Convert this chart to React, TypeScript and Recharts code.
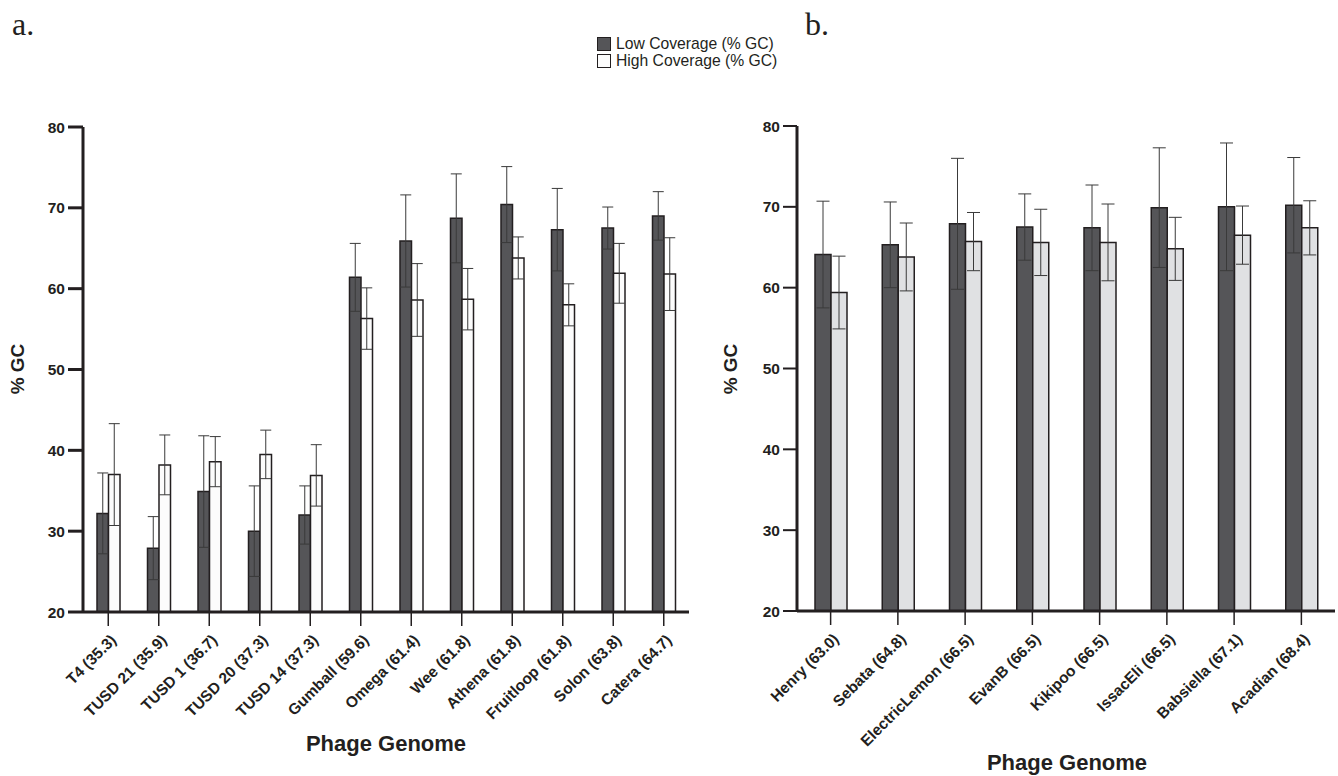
import React from "react";
import { BarChart, Bar, XAxis, YAxis, ErrorBar } from "recharts";

const leftGenomes = [
  "T4 (35.3)", "TUSD 21 (35.9)", "TUSD 1 (36.7)", "TUSD 20 (37.3)", "TUSD 14 (37.3)",
  "Gumball (59.6)", "Omega (61.4)", "Wee (61.8)", "Athena (61.8)", "Fruitloop (61.8)",
  "Solon (63.8)", "Catera (64.7)",
];
const leftLow = [32.2, 27.9, 34.9, 30.0, 32.0, 61.4, 65.9, 68.7, 70.4, 67.3, 67.5, 69.0];
const leftLowErr = [5.0, 3.9, 6.9, 5.6, 3.6, 4.2, 5.7, 5.5, 4.7, 5.1, 2.6, 3.0];
const leftHigh = [37.0, 38.2, 38.6, 39.5, 36.9, 56.3, 58.6, 58.7, 63.8, 58.0, 61.9, 61.8];
const leftHighErr = [6.3, 3.7, 3.1, 3.0, 3.8, 3.8, 4.5, 3.8, 2.6, 2.6, 3.7, 4.5];

const rightGenomes = [
  "Henry (63.0)", "Sebata (64.8)", "ElectricLemon (66.5)", "EvanB (66.5)",
  "Kikipoo (66.5)", "IssacEli (66.5)", "Babsiella (67.1)", "Acadian (68.4)",
];
const rightLow = [64.1, 65.3, 67.9, 67.5, 67.4, 69.9, 70.0, 70.2];
const rightLowErr = [6.6, 5.3, 8.1, 4.1, 5.3, 7.4, 7.9, 5.9];
const rightHigh = [59.4, 63.8, 65.7, 65.6, 65.6, 64.8, 66.5, 67.4];
const rightHighErr = [4.5, 4.2, 3.6, 4.1, 4.75, 3.9, 3.6, 3.35];

const yTicks = [20, 30, 40, 50, 60, 70, 80];

const leftData = leftGenomes.map((name, i) => ({
  name, low: leftLow[i], lowErr: leftLowErr[i], high: leftHigh[i], highErr: leftHighErr[i],
}));
const rightData = rightGenomes.map((name, i) => ({
  name, low: rightLow[i], lowErr: rightLowErr[i], high: rightHigh[i], highErr: rightHighErr[i],
}));

const ink = "#231f20";
const font = "'Liberation Sans', Arial, sans-serif";

const XTick = (props: any) => {
  const { x, y, payload } = props;
  return (
    <text
      transform={`translate(${x + 9},${y + 13}) rotate(-45)`}
      textAnchor="end"
      fill={ink}
      fontSize={15.5}
      fontWeight="bold"
      fontFamily={font}
    >
      {payload.value}
    </text>
  );
};

const yTick = { fill: ink, fontSize: 15.5, fontWeight: "bold" as const, fontFamily: font };

const Title = ({ x, y, children }: { x: number; y: number; children: React.ReactNode }) => (
  <div style={{
    position: "absolute", left: x - 150, top: y - 14, width: 300, textAlign: "center",
    fontFamily: font, fontWeight: "bold", fontSize: 22, color: ink,
  }}>{children}</div>
);

const YTitle = ({ x, y }: { x: number; y: number }) => (
  <div style={{
    position: "absolute", left: x - 40, top: y - 12, width: 80, textAlign: "center",
    transform: "rotate(-90deg)", fontFamily: font, fontWeight: "bold", fontSize: 19, color: ink,
  }}>% GC</div>
);

export default function App() {
  return (
    <div style={{ position: "fixed", left: 0, top: 0, width: 1338, height: 776, background: "#fff", overflow: "hidden" }}>
      <div style={{ position: "absolute", left: 12, top: 6, fontFamily: "'Liberation Serif', serif", fontSize: 32, color: ink }}>a.</div>
      <div style={{ position: "absolute", left: 805, top: 6, fontFamily: "'Liberation Serif', serif", fontSize: 32, color: ink }}>b.</div>

      {/* legend */}
      <div style={{ position: "absolute", left: 597, top: 35, fontFamily: font, fontSize: 15.7, color: ink, lineHeight: "17px" }}>
        <div style={{ display: "flex", alignItems: "center" }}>
          <span style={{ width: 12, height: 12, background: "#555558", border: `1px solid ${ink}`, marginRight: 5 }} />
          Low Coverage (% GC)
        </div>
        <div style={{ display: "flex", alignItems: "center" }}>
          <span style={{ width: 12, height: 12, background: "#fcfcfc", border: `1px solid ${ink}`, marginRight: 5 }} />
          High Coverage (% GC)
        </div>
      </div>

      <div style={{ position: "absolute", left: 0, top: 0 }}>
        <BarChart width={700} height={776} data={leftData} margin={{ top: 127, right: 11, left: 33, bottom: 0 }} barGap={0} barSize={11.5}>
          <XAxis dataKey="name" interval={0} height={164} tick={<XTick />}
            axisLine={{ stroke: ink, strokeWidth: 3 }} tickLine={{ stroke: ink, strokeWidth: 1.5 }} tickSize={14} />
          <YAxis domain={[20, 80]} ticks={yTicks} width={50} tick={yTick} tickSize={15} tickMargin={3}
            axisLine={{ stroke: ink, strokeWidth: 3 }} tickLine={{ stroke: ink, strokeWidth: 3 }} />
          <Bar dataKey="low" fill="#555558" stroke={ink} strokeWidth={1.5} isAnimationActive={false}>
            <ErrorBar dataKey="lowErr" width={5.5} stroke="#3a3a3a" strokeWidth={1} direction="y" isAnimationActive={false} />
          </Bar>
          <Bar dataKey="high" fill="#fcfcfc" stroke={ink} strokeWidth={1.5} isAnimationActive={false}>
            <ErrorBar dataKey="highErr" width={5.5} stroke="#3a3a3a" strokeWidth={1} direction="y" isAnimationActive={false} />
          </Bar>
        </BarChart>
      </div>

      <div style={{ position: "absolute", left: 700, top: 0 }}>
        <BarChart width={638} height={776} data={rightData} margin={{ top: 126, right: 3, left: 47, bottom: 0 }} barGap={0} barSize={16}>
          <XAxis dataKey="name" interval={0} height={165} tick={<XTick />}
            axisLine={{ stroke: ink, strokeWidth: 3 }} tickLine={{ stroke: ink, strokeWidth: 1.5 }} tickSize={14} />
          <YAxis domain={[20, 80]} ticks={yTicks} width={50} tick={yTick} tickSize={14} tickMargin={3}
            axisLine={{ stroke: ink, strokeWidth: 3 }} tickLine={{ stroke: ink, strokeWidth: 2 }} />
          <Bar dataKey="low" fill="#555558" stroke={ink} strokeWidth={1.5} isAnimationActive={false}>
            <ErrorBar dataKey="lowErr" width={6.5} stroke="#3a3a3a" strokeWidth={1} direction="y" isAnimationActive={false} />
          </Bar>
          <Bar dataKey="high" fill="#e0e1e3" stroke={ink} strokeWidth={1.5} isAnimationActive={false}>
            <ErrorBar dataKey="highErr" width={6.5} stroke="#3a3a3a" strokeWidth={1} direction="y" isAnimationActive={false} />
          </Bar>
        </BarChart>
      </div>

      <Title x={386} y={745}>Phage Genome</Title>
      <Title x={1067} y={764}>Phage Genome</Title>
      <YTitle x={18} y={370} />
      <YTitle x={731} y={370} />
    </div>
  );
}
